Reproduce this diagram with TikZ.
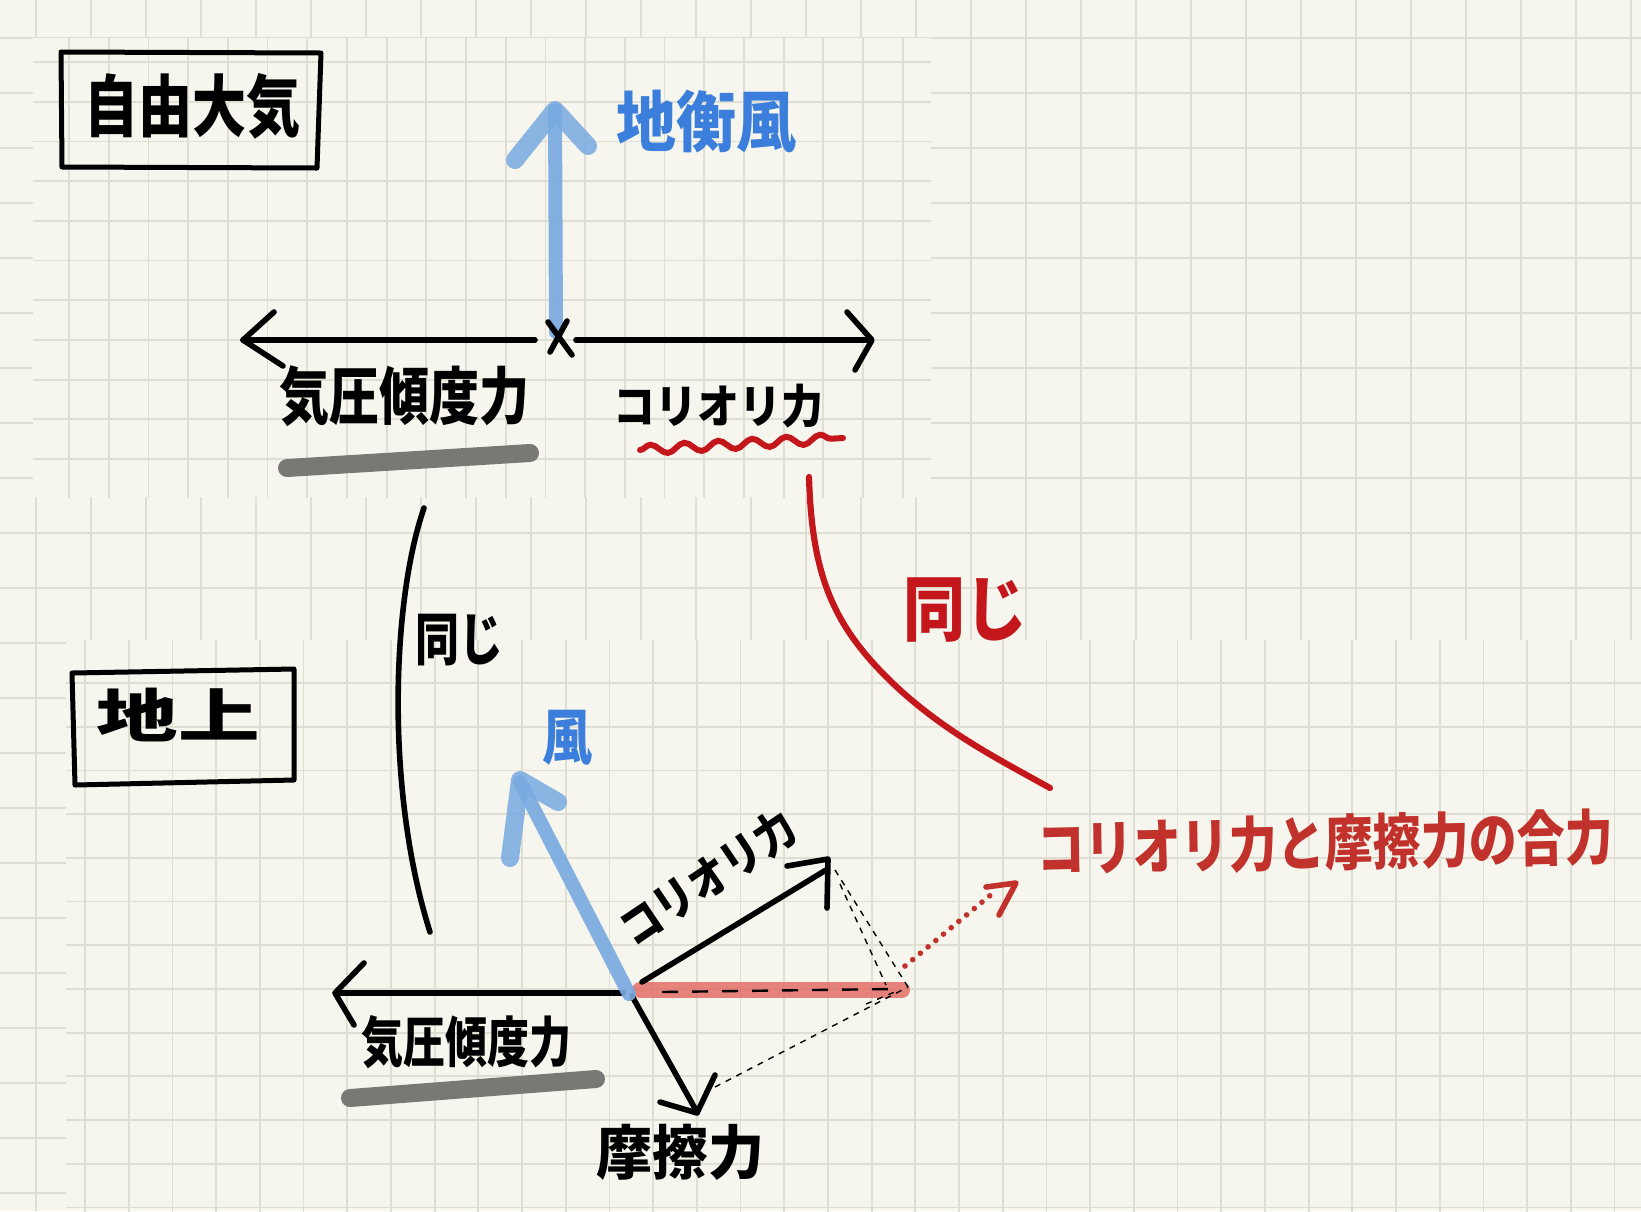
\documentclass[tikz,border=0pt]{standalone}
\usepackage{fontspec}
\newfontfamily\jp{Noto Sans CJK JP}
\usetikzlibrary{decorations.pathmorphing}

\definecolor{paper}{HTML}{F7F6EE}
\definecolor{gridc}{HTML}{DFDED3}
\definecolor{windblue}{HTML}{78A9E0}
\definecolor{textblue}{HTML}{3B7EDB}
\definecolor{penred}{HTML}{C4171C}
\definecolor{notered}{HTML}{C0322B}
\definecolor{marker}{HTML}{787874}
\definecolor{salmon}{HTML}{E26F68}

\newcommand{\penfont}[1]{\jp\bfseries\fontsize{#1}{#1}\selectfont}

\tikzset{
  gridline/.style={gridc, line width=0.9pt},
  pen/.style={line width=2.8pt, line cap=round, line join=round},
  windshaft/.style={windblue, opacity=0.9, line width=7pt, line cap=round},
  windhead/.style={windblue, opacity=0.85, line width=9pt, line cap=round, line join=round},
  underline/.style={marker, line width=9pt, line cap=round},
  hint/.style={line width=0.7pt, dash pattern=on 3pt off 3pt},
  hand/.style={inner sep=0pt, font=\penfont{#1}},
  hand/.default=24
}

\begin{document}
\begin{tikzpicture}[x=0.5pt, y=-0.5pt]
\useasboundingbox (0,0) rectangle (1641,1211);

% paper and base grid
\fill[paper] (0,0) rectangle (1641,1211);
\foreach \i in {0,...,29} \draw[gridline] ({36+55*\i},0) -- ++(0,1211);
\foreach \j in {0,...,21} \draw[gridline] (0,{38+55*\j}) -- ++(1641,0);

% upper-left sheet (finer grid)
\begin{scope}
\clip (33,38) rectangle (931,497);
\fill[paper] (33,38) rectangle (931,497);
\foreach \i in {-1,...,22} \draw[gridline] ({69+39.7*\i},0) -- ++(0,600);
\foreach \j in {-1,...,11} \draw[gridline] (0,{62+39.7*\j}) -- ++(1000,0);
\end{scope}

% lower sheet
\begin{scope}
\clip (66,640) rectangle (1641,1211);
\fill[paper] (66,640) rectangle (1641,1211);
\foreach \i in {-1,...,36} \draw[gridline] ({85+43.7*\i},600) -- ++(0,700);
\foreach \j in {-1,...,12} \draw[gridline] (0,{683+43.7*\j}) -- ++(1700,0);
\end{scope}

%%% free atmosphere
\draw[pen, line width=2.5pt] (61,52) -- (321,53) -- (317,168) -- (62,167) -- cycle;
\node[hand=27, yscale=1.25] (freeair) at (192,106) {自由大気};

% geostrophic wind
\coordinate (top) at (559,338);
\coordinate (geotip) at (555,110);
\draw[windshaft] (556,332) -- (geotip);
\draw[windhead] (515,160) -- (geotip) -- (588,146);
\node[hand=30, textblue, yscale=1.1] (geolabel) at (706,122) {地衡風};

% pressure gradient force and coriolis force
\draw[pen] (535,340) -- (243,340);
\draw[pen] (274,312) -- (243,340) -- (283,366);
\draw[pen] (576,340) -- (871,340);
\draw[pen] (847,312) -- (872,340) -- (855,370);
\draw[pen] (548,322) -- (572,355);
\draw[pen] (567,321) -- (550,352);

\node[hand=25, yscale=1.25] (pgftop) at (404,396) {気圧傾度力};
\node[hand=21, yscale=1.1] (cortop) at (718,406) {コリオリ力};
\draw[underline] (287,468) -- (530,453);
\draw[penred, line width=3pt, line cap=round,
  decorate, decoration={snake, segment length=17pt, amplitude=2.3pt}]
  (640,450) -- (843,438);

%%% "same" links
\draw[pen, line width=2.8pt] (424,508) .. controls (392,600) and (385,790) .. (430,932);
\node[hand=22, yscale=1.3] (samel) at (459,640) {同じ};

\draw[penred, line width=3.1pt, line cap=round]
  (809,477) .. controls (812,580) and (835,630) .. (900,690)
  .. controls (950,735) and (1000,760) .. (1050,788);
\node[hand=31, penred, yscale=1.15] (samer) at (965,610) {同じ};

%%% surface
\draw[pen, line width=2.5pt] (72,673) -- (294,669) -- (294,780) -- (75,785) -- cycle;
\node[hand=34, xscale=1.2, yscale=0.85] (ground) at (178,715) {地上};

\coordinate (org) at (630,992);

% resultant of coriolis and friction
\draw[salmon, opacity=0.85, line width=8pt, line cap=round] (640,990) -- (902,990);
\draw[line width=1.2pt, dash pattern=on 8pt off 7pt] (662,992) -- (890,989);

% parallelogram hints
\draw[hint] (835,870) -- (908,987);
\draw[hint] (840,884) -- (886,985);
\draw[hint] (715,1087) -- (908,987);
\draw[hint] (866,1004) -- (897,991);

% pressure gradient force
\draw[pen] (623,993) -- (337,993);
\draw[pen] (364,963) -- (335,993) -- (354,1025);
\node[hand=21, yscale=1.3] (pgflow) at (466,1042) {気圧傾度力};
\draw[underline] (350,1098) -- (596,1079);

% coriolis force
\draw[pen] (642,982) -- (826,870);
\draw[pen] (787,866) -- (828,859) -- (827,908);
\node[hand=20, rotate=34, yscale=1.15] (corlow) at (708,878) {コリオリ力};

% friction
\draw[pen] (632,996) -- (697,1112);
\draw[pen] (660,1102) -- (697,1113) -- (715,1075);
\node[hand=28, yscale=1.05] (friclabel) at (680,1152) {摩擦力};

% surface wind
\draw[windshaft] (629,994) -- (520,782);
\draw[windhead] (510,858) -- (520,780) -- (558,802);
\node[hand=25, textblue, yscale=1.2] (windlabel) at (567,738) {風};

% note on the resultant
\node[hand=24, notered, yscale=1.25, rotate=1] (sumlabel) at (1325,843) {コリオリ力と摩擦力の合力};
\draw[notered, line width=2.8pt, line cap=round, dash pattern=on 0pt off 5pt] (905,966) -- (993,893);
\draw[notered, line width=2.8pt, line cap=round, line join=round] (986,887) -- (1016,883) -- (999,915);
\end{tikzpicture}
\end{document}
